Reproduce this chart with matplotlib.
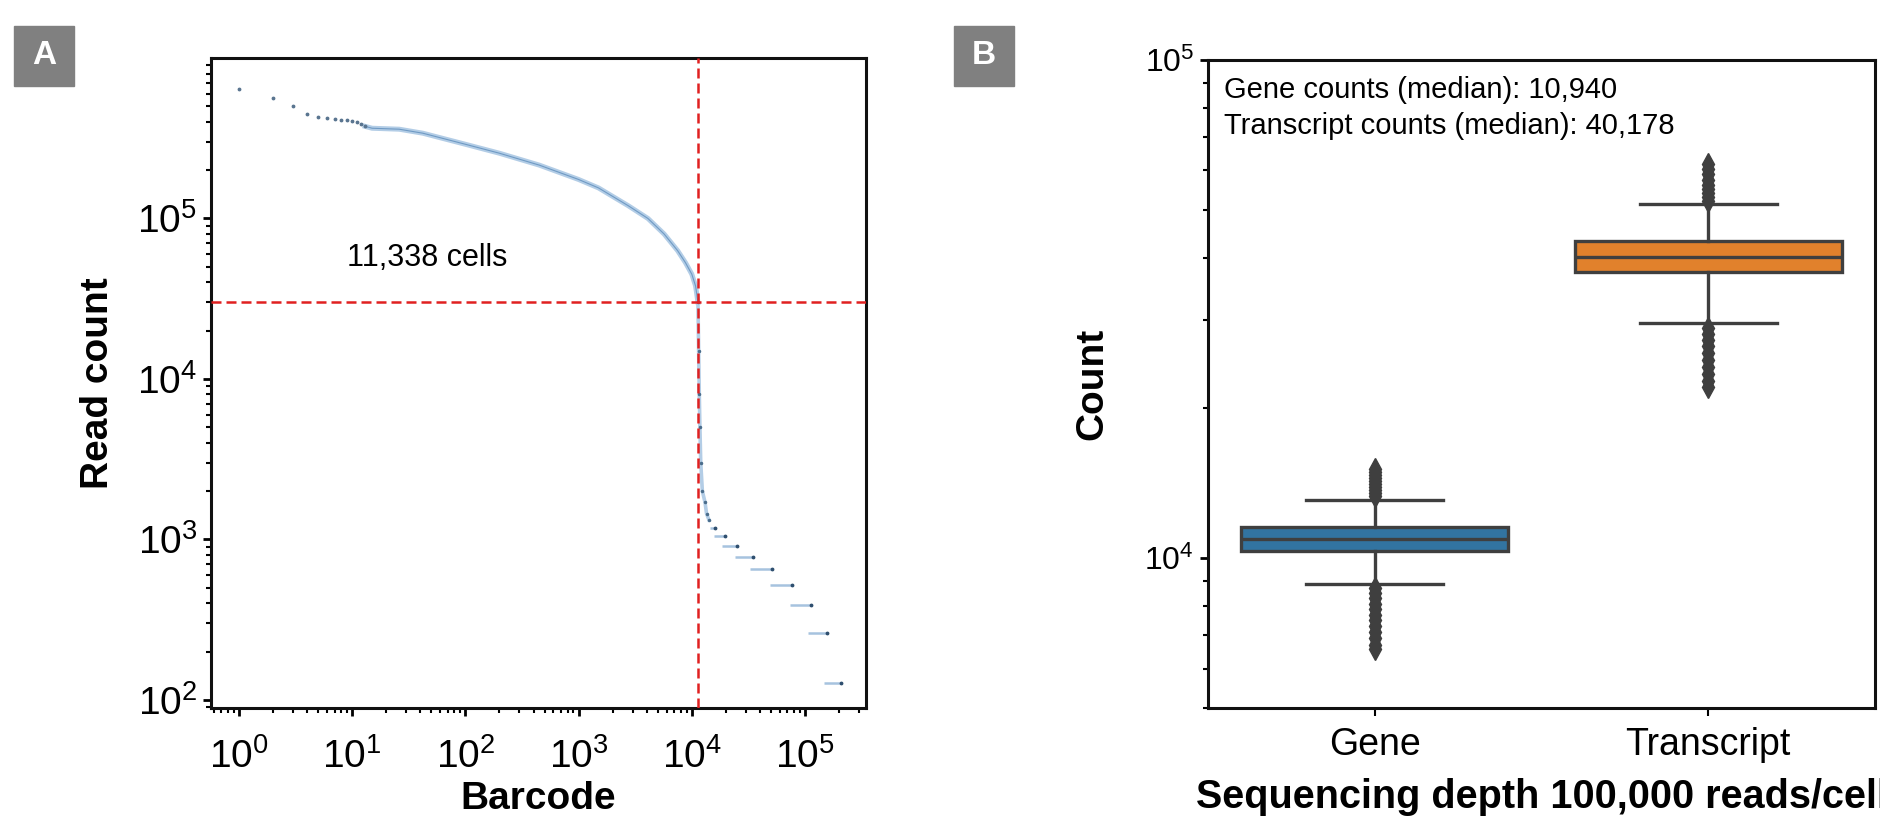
import numpy as np
import matplotlib
matplotlib.use('Agg')
import matplotlib.pyplot as plt
from matplotlib.patches import Rectangle
from matplotlib.ticker import LogLocator, NullFormatter, LogFormatterMathtext

plt.rcParams['font.family'] = ['Liberation Sans', 'DejaVu Sans']

# ---- Panel A: barcode rank plot ----
# isolated points at the top ranks
head_rank = [1, 2, 3, 4, 5, 6, 7, 8, 9, 10, 11, 12, 13]
head_count = [6.4e5, 5.65e5, 5.0e5, 4.45e5, 4.3e5, 4.2e5, 4.17e5, 4.13e5,
              4.1e5, 4.07e5, 4.02e5, 3.9e5, 3.75e5]

# continuous part of the curve (cells)
curve_rank = [13, 15, 26, 42, 100, 200, 450, 1000, 1500, 2750, 4100, 5700,
              7500, 8800, 10000, 10800, 11338]
curve_count = [3.75e5, 3.65e5, 3.6e5, 3.4e5, 2.9e5, 2.55e5, 2.15e5, 1.75e5,
               1.55e5, 1.2e5, 1.0e5, 8.0e4, 6.3e4, 5.3e4, 4.5e4, 3.8e4, 3.0e4]

# steep drop after the knee
drop_rank = [11338, 11500, 11650, 11800, 12000, 12400, 13100, 13500, 14200]
drop_count = [3.0e4, 1.5e4, 8.0e3, 5.0e3, 3.0e3, 2.0e3, 1.7e3, 1.45e3, 1.32e3]

# flat runs of equal read count in the background tail
step_start = [14500, 15700, 18600, 24000, 33000, 49000, 74000, 106000, 148000]
step_end = [15900, 19600, 25000, 35000, 51000, 77000, 113000, 158000, 209000]
step_count = [1170, 1045, 910, 780, 650, 520, 390, 260, 128]

n_cells = 11338
cutoff_count = 30000

# ---- Panel B: gene / transcript counts per cell ----
categories = ['Gene', 'Transcript']
medians = [10940, 40178]
q1 = [10330, 37570]
q3 = [11550, 43350]
whisker_low = [8870, 29650]
whisker_high = [13090, 51300]
fliers_gene = [13300, 13500, 13700, 13900, 14100, 14300, 14500, 14700, 14900,
               15100, 8700, 8500, 8300, 8100, 7900, 7700, 7500, 7300, 7100,
               6900, 6700, 6560]
fliers_transcript = [52000, 53000, 54000, 55000, 56000, 57500, 59000, 60500,
                     61700, 29000, 28200, 27400, 26600, 25800, 25000, 24200,
                     23400, 22700, 22100]
box_colors = ['#3274a1', '#e1812c']

fig = plt.figure(figsize=(18.81, 8.17), dpi=100)
W, H = 1881, 817


def px_axes(left, top, right, bottom):
    return fig.add_axes([left / W, 1 - bottom / H, (right - left) / W, (bottom - top) / H])


def style_spines(ax):
    for s in ax.spines.values():
        s.set_linewidth(2.2)
        s.set_color('#111111')


# Panel A
axA = px_axes(211, 58, 866, 708)
axA.set_xscale('log')
axA.set_yscale('log')

axA.plot(curve_rank, curve_count, '-', color='#b3cde6', lw=3.6, zorder=2)
axA.plot(curve_rank, curve_count, '-', color='#6f9ac4', lw=0.8, zorder=3)
axA.plot(drop_rank, drop_count, '-', color='#b3cde6', lw=2.6, zorder=2)
axA.plot(drop_rank, drop_count, '.', color='#4a6d8c', ms=3, zorder=3)
axA.plot(head_rank, head_count, '.', color='#5a7590', ms=3.5, zorder=3)
axA.hlines(step_count, step_start, step_end, color='#a6c3df', lw=1.8, zorder=2)
axA.plot(step_end, step_count, '.', color='#2f4f6f', ms=3.5, zorder=3)

axA.axvline(n_cells, color='#e02020', ls=(0, (4, 2)), lw=1.8, zorder=4)
axA.axhline(cutoff_count, color='#e02020', ls=(0, (4, 2)), lw=1.8, zorder=4)
axA.text(46, 5.7e4, f'{n_cells:,} cells', fontsize=22, ha='center', va='center')

axA.set_xlim(0.566, 3.46e5)
axA.set_ylim(89, 1.0e6)
for axis in (axA.xaxis, axA.yaxis):
    axis.set_major_locator(LogLocator(base=10, numticks=20))
    axis.set_minor_locator(LogLocator(base=10, subs=np.arange(2, 10), numticks=100))
    axis.set_minor_formatter(NullFormatter())
axA.set_xticks([1, 10, 100, 1e3, 1e4, 1e5])
axA.set_yticks([1e2, 1e3, 1e4, 1e5])
axA.xaxis.set_major_formatter(LogFormatterMathtext())
axA.yaxis.set_major_formatter(LogFormatterMathtext())
axA.tick_params(axis='both', which='major', labelsize=28, length=6, width=2)
axA.tick_params(axis='both', which='minor', length=3.5, width=1.5)
axA.tick_params(axis='x', which='major', pad=16)
axA.tick_params(axis='y', which='major', pad=4)
style_spines(axA)
axA.set_xlabel('Barcode', fontsize=28, fontweight='bold')
axA.set_ylabel('Read count', fontsize=28, fontweight='bold')
axA.xaxis.set_label_coords(0.5, -0.112)
axA.yaxis.set_label_coords(-0.145, 0.5)

# Panel B
axB = px_axes(1208, 60, 1875, 708)
axB.set_yscale('log')
stats = []
for i, name in enumerate(categories):
    stats.append({
        'label': name,
        'med': medians[i],
        'q1': q1[i],
        'q3': q3[i],
        'whislo': whisker_low[i],
        'whishi': whisker_high[i],
        'fliers': [fliers_gene, fliers_transcript][i],
    })
line_kw = dict(color='#3f3f3f', linewidth=2.4)
bp = axB.bxp(stats, positions=[0, 1], widths=0.8, capwidths=0.41,
             patch_artist=True,
             boxprops=dict(edgecolor='#3f3f3f', linewidth=2.4),
             medianprops=line_kw, whiskerprops=line_kw, capprops=line_kw,
             flierprops=dict(marker='d', markersize=11, markerfacecolor='#3f3f3f',
                             markeredgecolor='#3f3f3f'))
for patch, c in zip(bp['boxes'], box_colors):
    patch.set_facecolor(c)

axB.set_xlim(-0.5, 1.5)
axB.set_ylim(5000, 1e5)
axB.yaxis.set_major_locator(LogLocator(base=10, numticks=20))
axB.yaxis.set_minor_locator(LogLocator(base=10, subs=np.arange(2, 10), numticks=100))
axB.yaxis.set_minor_formatter(NullFormatter())
axB.yaxis.set_major_formatter(LogFormatterMathtext())
axB.set_xticks([0, 1])
axB.set_xticklabels(categories)
axB.tick_params(axis='y', which='major', labelsize=23, length=6, width=2, pad=4)
axB.tick_params(axis='y', which='minor', length=3.5, width=1.5)
axB.tick_params(axis='x', labelsize=27, length=6, width=1.5, pad=8)
style_spines(axB)
axB.set_ylabel('Count', fontsize=28, fontweight='bold')
# the reference cuts the end of this label at the figure edge
axB.set_xlabel('Sequencing depth 100,000 reads/cell', fontsize=28.5, fontweight='bold')
axB.yaxis.set_label_coords(-0.147, 0.5)
axB.xaxis.set_label_coords(0.5, -0.108)
axB.text(0.024, 0.954, f'Gene counts (median): {medians[0]:,}', transform=axB.transAxes,
         fontsize=21, ha='left', va='center')
axB.text(0.024, 0.898, f'Transcript counts (median): {medians[1]:,}', transform=axB.transAxes,
         fontsize=21, ha='left', va='center')

# panel letters
for letter, x0 in [('A', 14), ('B', 954)]:
    fig.patches.append(Rectangle((x0 / W, 1 - 86 / H), 60 / W, 60 / H,
                                 transform=fig.transFigure, color='#808080'))
    fig.text((x0 + 30) / W, 1 - 56 / H, letter, color='white', fontsize=24,
             fontweight='bold', ha='center', va='center')

fig.savefig('out.png', dpi=100)
